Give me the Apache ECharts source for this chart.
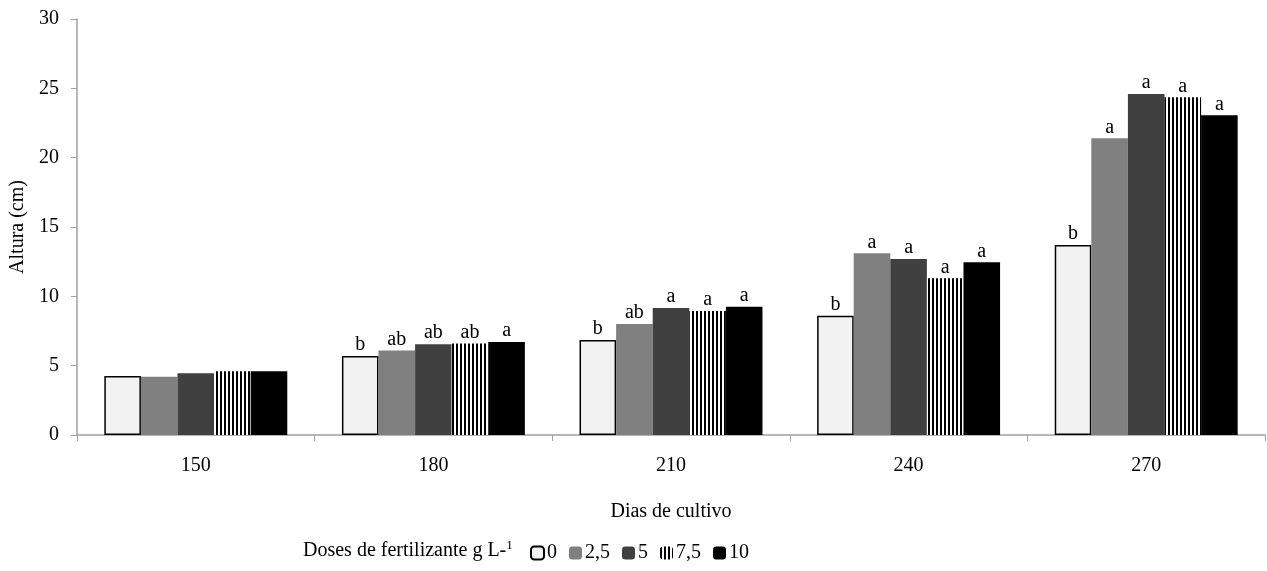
<!DOCTYPE html>
<html>
<head>
<meta charset="utf-8">
<script src="https://cdn.jsdelivr.net/npm/echarts@6/dist/echarts.min.js"></script>
<style>
  html, body { margin: 0; padding: 0; background: #fff; }
  #chart { width: 1267px; height: 571px; }
</style>
</head>
<body>
<div id="chart"></div>
<script>
// dados
var dias = ['150', '180', '210', '240', '270'];
var doses = ['0', '2,5', '5', '7,5', '10'];
var dose0 = [4.25, 5.7, 6.85, 8.6, 13.7];
var dose25 = [4.2, 6.1, 8.0, 13.1, 21.4];
var dose5 = [4.45, 6.55, 9.15, 12.7, 24.6];
var dose75 = [4.6, 6.6, 8.95, 11.3, 24.35];
var dose10 = [4.6, 6.7, 9.25, 12.45, 23.05];
var letras0 = ['', 'b', 'b', 'b', 'b'];
var letras25 = ['', 'ab', 'ab', 'a', 'a'];
var letras5 = ['', 'ab', 'a', 'a', 'a'];
var letras75 = ['', 'ab', 'a', 'a', 'a'];
var letras10 = ['', 'a', 'a', 'a', 'a'];

// listras verticais para 7,5
var listras = document.createElement('canvas');
listras.width = 4;
listras.height = 4;
var ctx = listras.getContext('2d');
ctx.fillStyle = '#ffffff';
ctx.fillRect(0, 0, 4, 4);
ctx.fillStyle = '#000000';
ctx.fillRect(0, 0, 2, 4);

var fonte = '"Liberation Serif", "Times New Roman", serif';
var myChart = echarts.init(document.getElementById('chart'));

function serie(nome, dados, letras, cor, borda) {
  return {
    name: nome,
    type: 'bar',
    data: dados,
    barGap: '0%',
    barCategoryGap: '23%',
    itemStyle: {
      color: cor,
      borderColor: borda || 'transparent',
      borderWidth: borda ? 1.5 : 0
    },
    label: {
      show: true,
      position: 'top',
      distance: 1,
      fontFamily: fonte,
      fontSize: 20,
      color: '#000',
      formatter: function (p) { return letras[p.dataIndex]; }
    }
  };
}

var option = {
  animation: false,
  textStyle: { fontFamily: fonte },
  title: {
    text: 'Doses de fertilizante g L-{sup|1}',
    left: 298,
    top: 534,
    textStyle: {
      fontFamily: fonte,
      fontSize: 20,
      fontWeight: 'normal',
      color: '#000',
      rich: {
        sup: { fontFamily: fonte, fontSize: 13, verticalAlign: 'top', padding: [0, 0, 10, 0], color: '#000' }
      }
    }
  },
  legend: {
    left: 525,
    top: 538,
    itemWidth: 13,
    itemHeight: 13,
    itemGap: 12,
    textStyle: { fontFamily: fonte, fontSize: 20, color: '#000', padding: [0, 0, 0, -2] },
    data: doses
  },
  grid: {
    left: 77,
    right: 2,
    top: 19,
    bottom: 136,
    containLabel: false,
    outerBoundsMode: 'none'
  },
  xAxis: {
    type: 'category',
    data: dias,
    name: 'Dias de cultivo',
    nameLocation: 'middle',
    nameGap: 67,
    nameTextStyle: { fontFamily: fonte, fontSize: 20, color: '#000' },
    axisLine: { lineStyle: { color: '#a0a0a0', width: 1.5 } },
    axisTick: { show: true, length: 6, lineStyle: { color: '#a0a0a0' } },
    axisLabel: { fontFamily: fonte, fontSize: 20, color: '#000', margin: 21 }
  },
  yAxis: {
    type: 'value',
    min: 0,
    max: 30,
    interval: 5,
    name: 'Altura (cm)',
    nameLocation: 'middle',
    nameGap: 47,
    nameTextStyle: { fontFamily: fonte, fontSize: 20, color: '#000' },
    splitLine: { show: false },
    axisLine: { show: true, lineStyle: { color: '#a0a0a0', width: 1.5 } },
    axisTick: { show: true, length: 6, inside: false, lineStyle: { color: '#a0a0a0' } },
    axisLabel: { fontFamily: fonte, fontSize: 20, color: '#000', margin: 18 }
  },
  series: [
    serie('0', dose0, letras0, '#f2f2f2', '#000000'),
    serie('2,5', dose25, letras25, '#808080'),
    serie('5', dose5, letras5, '#404040'),
    serie('7,5', dose75, letras75, { image: listras, repeat: 'repeat' }),
    serie('10', dose10, letras10, '#000000')
  ]
};
option && myChart.setOption(option);
</script>
</body>
</html>
